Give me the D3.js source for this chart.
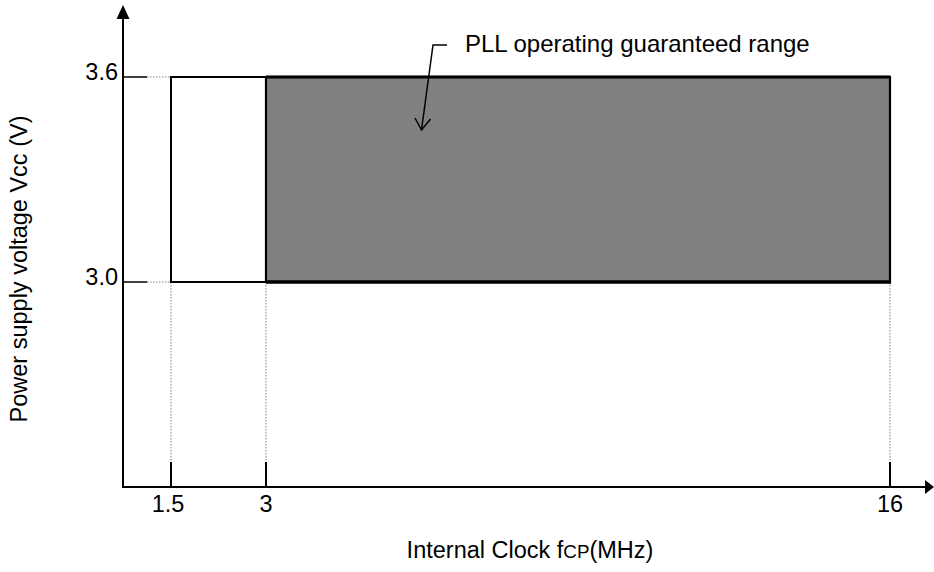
<!DOCTYPE html>
<html>
<head>
<meta charset="utf-8">
<script src="https://cdn.jsdelivr.net/npm/d3@7"></script>
<style>
  html, body { margin: 0; padding: 0; background: #fff; }
  svg { display: block; }
  text { font-family: "Liberation Sans", Arial, sans-serif; fill: #000; }
</style>
</head>
<body>
<svg id="chart" width="934" height="572"></svg>
<script>
// ---- data ----
const xTickValues = [1.5, 3, 16];
const xTickLabels = ["1.5", "3", "16"];
const yTickValues = [3.0, 3.6];
const yTickLabels = ["3.0", "3.6"];
const vccRange = [3.0, 3.6];          // supply voltage range
const clockRange = [1.5, 16];         // operating clock range
const pllRange = [3, 16];             // PLL guaranteed range
const xTitle = "Internal Clock f";
const xTitleSub = "CP";
const xTitleTail = "(MHz)";
const yTitle = "Power supply voltage Vcc (V)";
const annotation = "PLL operating guaranteed range";

// ---- layout ----
const svg = d3.select("#chart");
const x0 = 123, xEnd = 934, yBase = 487, yTop = 5;
const x = d3.scaleLinear().domain([0, 1.5, 3, 16]).range([x0, 171, 266, 890]);
const y = d3.scaleLinear().domain([2.4, 3.6]).range([yBase, 77]);
const fontSize = 23.5;

// dotted guides from box to axes
const dotted = { stroke: "#808080", width: 1, dash: "1.5,1.5" };
svg.selectAll("line.vguide").data(xTickValues).join("line")
  .attr("x1", d => x(d)).attr("x2", d => x(d))
  .attr("y1", y(vccRange[0])).attr("y2", yBase - 25)
  .attr("stroke", dotted.stroke).attr("stroke-width", dotted.width)
  .attr("stroke-dasharray", dotted.dash);
svg.selectAll("line.vtick").data(xTickValues).join("line")
  .attr("x1", d => x(d)).attr("x2", d => x(d))
  .attr("y1", yBase - 25).attr("y2", yBase)
  .attr("stroke", "#000").attr("stroke-width", 2);
svg.selectAll("line.hguide").data(yTickValues).join("line")
  .attr("x1", x0 + 24).attr("x2", x(clockRange[0]))
  .attr("y1", d => y(d)).attr("y2", d => y(d))
  .attr("stroke", dotted.stroke).attr("stroke-width", dotted.width)
  .attr("stroke-dasharray", dotted.dash);
svg.selectAll("line.htick").data(yTickValues).join("line")
  .attr("x1", x0).attr("x2", x0 + 24)
  .attr("y1", d => y(d)).attr("y2", d => y(d))
  .attr("stroke", "#000").attr("stroke-width", 1.5);

// operating area (white box)
svg.append("rect")
  .attr("x", x(clockRange[0])).attr("y", y(vccRange[1]))
  .attr("width", x(pllRange[0]) - x(clockRange[0]))
  .attr("height", y(vccRange[0]) - y(vccRange[1]))
  .attr("fill", "#fff").attr("stroke", "#000").attr("stroke-width", 2);

// PLL guaranteed area (gray box)
svg.append("rect")
  .attr("x", x(pllRange[0])).attr("y", y(vccRange[1]))
  .attr("width", x(pllRange[1]) - x(pllRange[0]))
  .attr("height", y(vccRange[0]) - y(vccRange[1]))
  .attr("fill", "#808080").attr("stroke", "#000").attr("stroke-width", 2.2);
svg.append("line")
  .attr("x1", x(pllRange[0])).attr("x2", x(pllRange[1]))
  .attr("y1", y(vccRange[1])).attr("y2", y(vccRange[1]))
  .attr("stroke", "#000").attr("stroke-width", 3);
svg.append("line")
  .attr("x1", x(pllRange[0])).attr("x2", x(pllRange[1]) + 1)
  .attr("y1", y(vccRange[0])).attr("y2", y(vccRange[0]))
  .attr("stroke", "#000").attr("stroke-width", 3.5);

// axes
svg.append("line").attr("x1", x0).attr("x2", x0).attr("y1", yBase).attr("y2", yTop + 12)
  .attr("stroke", "#000").attr("stroke-width", 2);
svg.append("line").attr("x1", x0 - 1).attr("x2", xEnd - 8).attr("y1", yBase).attr("y2", yBase)
  .attr("stroke", "#000").attr("stroke-width", 2);
svg.append("path")
  .attr("d", `M${x0},${yTop} L${x0 - 6.5},${yTop + 14} L${x0 + 6.5},${yTop + 14} Z`)
  .attr("fill", "#000");
svg.append("path")
  .attr("d", `M${xEnd},${yBase} L${xEnd - 9},${yBase - 7} L${xEnd - 9},${yBase + 7} Z`)
  .attr("fill", "#000");

// tick labels
svg.selectAll("text.xt").data(xTickValues).join("text")
  .attr("x", (d, i) => x(d) + (i === 0 ? -3 : 0))
  .attr("y", 512)
  .attr("text-anchor", "middle")
  .attr("font-size", fontSize)
  .text((d, i) => xTickLabels[i]);
svg.selectAll("text.yt").data(yTickValues).join("text")
  .attr("x", 118)
  .attr("y", d => y(d) + 3)
  .attr("text-anchor", "end")
  .attr("font-size", fontSize)
  .text((d, i) => yTickLabels[i]);

// axis titles
const xt = svg.append("text")
  .attr("x", 530).attr("y", 558)
  .attr("text-anchor", "middle")
  .attr("font-size", fontSize);
xt.append("tspan").text(xTitle);
xt.append("tspan").attr("font-size", fontSize * 0.8).text(xTitleSub);
xt.append("tspan").text(xTitleTail);

svg.append("text")
  .attr("transform", "translate(27,269) rotate(-90)")
  .attr("text-anchor", "middle")
  .attr("font-size", fontSize)
  .text(yTitle);

// annotation
svg.append("text")
  .attr("x", 465).attr("y", 52)
  .attr("font-size", 24)
  .text(annotation);
svg.append("path")
  .attr("d", "M447,45 L433,45 L421.5,130")
  .attr("fill", "none").attr("stroke", "#000").attr("stroke-width", 1.5);
svg.append("path")
  .attr("d", "M415,118 L421.5,130 L430.5,119")
  .attr("fill", "none").attr("stroke", "#000").attr("stroke-width", 1.5);
</script>
</body>
</html>
